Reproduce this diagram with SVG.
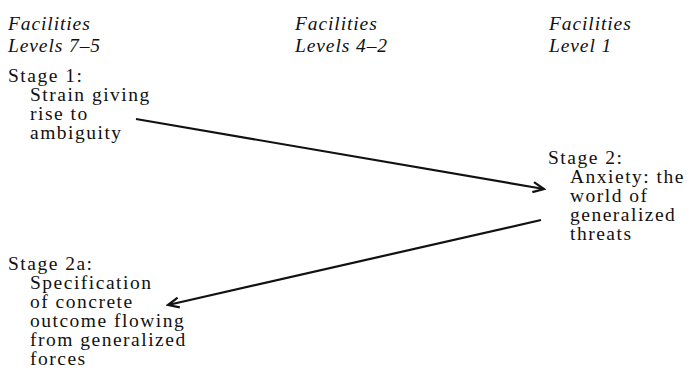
<svg xmlns="http://www.w3.org/2000/svg" width="690" height="376" viewBox="0 0 690 376">
  <style>
    text { font-family: "Liberation Serif", "DejaVu Serif", serif; font-size: 19.5px; letter-spacing: 1.5px; fill: #111; }
    .hd { font-style: italic; letter-spacing: 0.9px; }
    .edge { stroke: #111; stroke-width: 2.2; fill: none; }
  </style>
  <defs>
    <marker id="arrow" markerWidth="14" markerHeight="12" refX="12" refY="6" orient="auto" markerUnits="userSpaceOnUse">
      <path d="M1,1 L12,6 L1,11" fill="none" stroke="#111" stroke-width="2.2"/>
    </marker>
  </defs>
  <rect width="690" height="376" fill="#fff"/>

  <g id="col-levels-7-5">
    <text class="hd" x="8" y="30">Facilities</text>
    <text class="hd" x="8" y="52">Levels 7–5</text>
  </g>
  <g id="col-levels-4-2">
    <text class="hd" x="295" y="30">Facilities</text>
    <text class="hd" x="295" y="52">Levels 4–2</text>
  </g>
  <g id="col-level-1">
    <text class="hd" x="549" y="30">Facilities</text>
    <text class="hd" x="549" y="52">Level 1</text>
  </g>

  <g id="stage-1">
    <text x="8" y="82">Stage 1:</text>
    <text x="30" y="101">Strain giving</text>
    <text x="30" y="120">rise to</text>
    <text x="30" y="139">ambiguity</text>
  </g>

  <g id="stage-2">
    <text x="548" y="164">Stage 2:</text>
    <text x="570" y="183">Anxiety: the</text>
    <text x="570" y="202">world of</text>
    <text x="570" y="221">generalized</text>
    <text x="570" y="240">threats</text>
  </g>

  <g id="stage-2a">
    <text x="8" y="270">Stage 2a:</text>
    <text x="30" y="289">Specification</text>
    <text x="30" y="308">of concrete</text>
    <text x="30" y="327">outcome flowing</text>
    <text x="30" y="346">from generalized</text>
    <text x="30" y="365">forces</text>
  </g>

  <g id="connectors">
    <line class="edge" x1="136" y1="119" x2="544" y2="189" marker-end="url(#arrow)"/>
    <line class="edge" x1="541" y1="220" x2="168" y2="305" marker-end="url(#arrow)"/>
  </g>
</svg>
